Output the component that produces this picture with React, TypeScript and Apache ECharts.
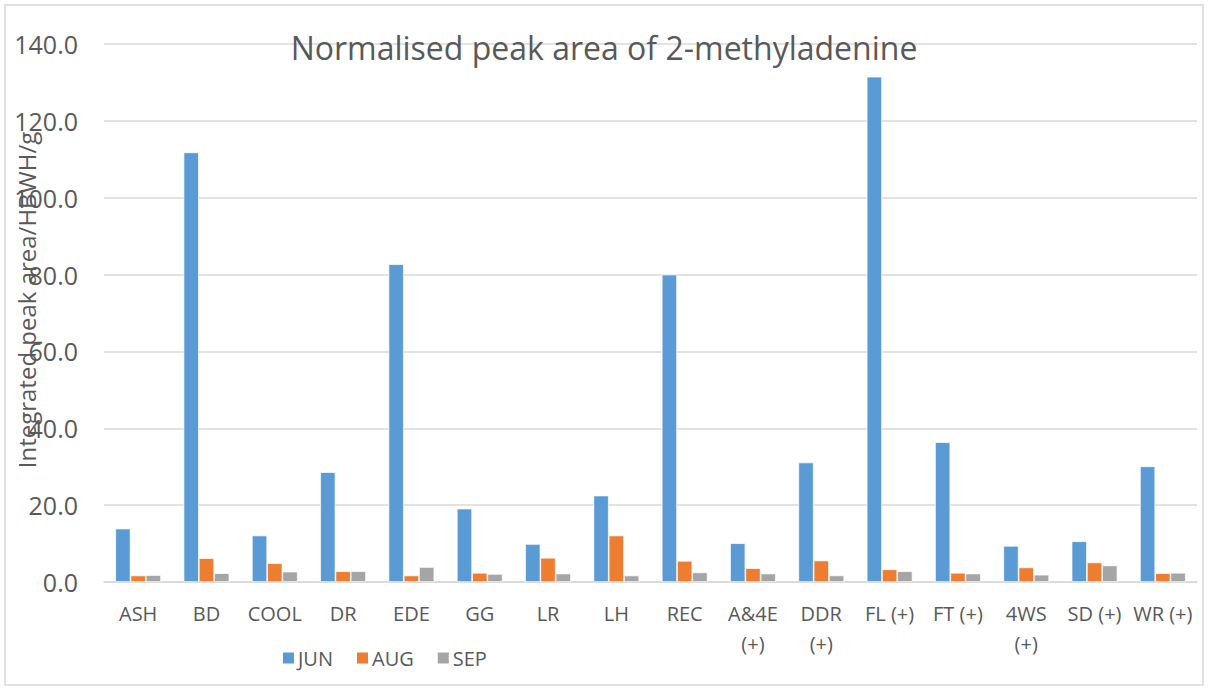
import React, { useEffect, useRef } from "react";
import * as echarts from "echarts";

const categories = ["ASH", "BD", "COOL", "DR", "EDE", "GG", "LR", "LH", "REC", "A&4E (+)", "DDR (+)", "FL (+)", "FT (+)", "4WS (+)", "SD (+)", "WR (+)"];
const jun = [13.9, 111.8, 12.1, 28.6, 82.7, 19.1, 9.9, 22.5, 80.0, 10.1, 31.1, 131.5, 36.4, 9.4, 10.6, 30.1];
const aug = [1.7, 6.2, 4.9, 2.8, 1.7, 2.4, 6.3, 12.1, 5.5, 3.6, 5.6, 3.3, 2.4, 3.8, 5.1, 2.3];
const sep = [1.8, 2.3, 2.7, 2.8, 3.9, 2.1, 2.2, 1.7, 2.5, 2.2, 1.7, 2.8, 2.2, 1.9, 4.3, 2.4];
const seriesNames = ["JUN", "AUG", "SEP"];
const colors = ["#5B9BD5", "#ED7D31", "#A5A5A5"];
const titleText = "Normalised peak area of 2-methyladenine";
const yName = "Integrated peak area/HBWH/g";

const FONT = "'Open Sans', sans-serif";

export default function App() {
  const ref = useRef<HTMLDivElement>(null);
  useEffect(() => {
    if (!ref.current) return;
    const chart = echarts.init(ref.current, undefined, { renderer: "svg" });
    const data = [jun, aug, sep];
    chart.setOption({
      animation: false,
      backgroundColor: "#ffffff",
      textStyle: { fontFamily: FONT },
      title: {
        text: titleText,
        left: "center",
        top: 26,
        textStyle: { fontFamily: FONT, fontSize: 32, fontWeight: "normal", color: "#595959" },
      },
      legend: {
        data: seriesNames,
        left: 276,
        top: 643,
        icon: "rect",
        itemWidth: 13,
        itemHeight: 13,
        itemGap: 22,
        textStyle: { fontFamily: FONT, fontSize: 20, color: "#595959", padding: [0, 0, 0, -2] },
      },
      grid: { left: 104, right: 11, top: 44, bottom: 108, containLabel: false },
      xAxis: {
        type: "category",
        data: categories,
        axisLine: { show: true, lineStyle: { color: "#D9D9D9", width: 1.5 } },
        axisTick: { show: false },
        axisLabel: {
          interval: 0,
          margin: 16,
          fontFamily: FONT,
          fontSize: 20,
          lineHeight: 30,
          color: "#595959",
          formatter: (v: string) => (v.length > 6 ? v.replace(" ", "\n") : v),
        },
      },
      yAxis: {
        type: "value",
        min: 0,
        max: 140,
        interval: 20,
        axisLine: { show: false },
        axisTick: { show: false },
        splitLine: { lineStyle: { color: "#D9D9D9", width: 1.5 } },
        axisLabel: {
          margin: 26,
          fontFamily: FONT,
          fontSize: 25,
          color: "#595959",
          formatter: (v: number) => v.toFixed(1),
        },
      },
      graphic: [
        {
          type: "rect",
          shape: { x: 5, y: 5, width: 1198, height: 680 },
          style: { fill: "none", stroke: "#D9D9D9", lineWidth: 1.5 },
          silent: true,
        },
        {
          type: "text",
          x: 26,
          y: 300,
          rotation: Math.PI / 2,
          style: {
            text: yName,
            fontFamily: FONT,
            fontSize: 24,
            fill: "#595959",
            align: "center",
            verticalAlign: "middle",
          },
          z: 100,
        },
      ],
      series: seriesNames.map((name, i) => ({
        name,
        type: "bar",
        data: data[i],
        barGap: "0%",
        barCategoryGap: "33%",
        itemStyle: { color: colors[i], borderColor: "#ffffff", borderWidth: 0.7 },
      })),
    });
    return () => chart.dispose();
  }, []);
  return <div ref={ref} style={{ position: "fixed", left: 0, top: 0, width: 1208, height: 690 }} />;
}
